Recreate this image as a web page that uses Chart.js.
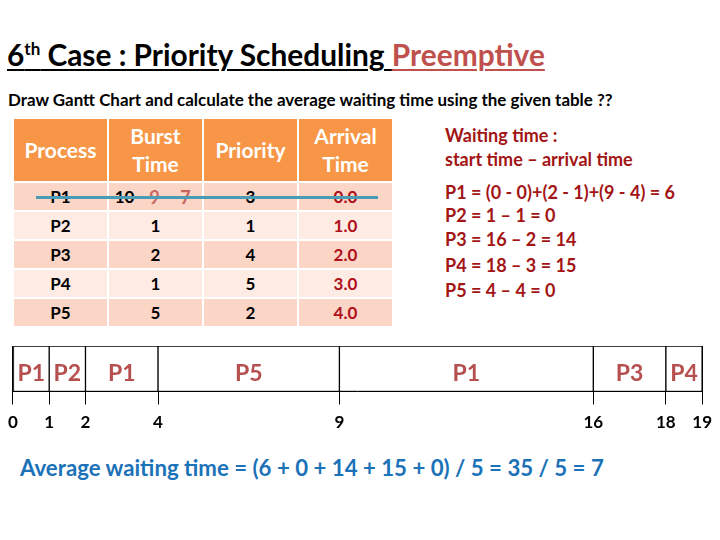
<!DOCTYPE html>
<html>
<head>
<meta charset="utf-8">
<script src="https://cdn.jsdelivr.net/npm/chart.js@4"></script>
<style>
  html,body{margin:0;padding:0;background:#fff;}
  body{width:720px;height:540px;position:relative;overflow:hidden;font-family:Lato,"Open Sans",sans-serif;font-weight:bold;}
  .abs{position:absolute;white-space:nowrap;}
  #title{left:7px;top:38px;font-size:28px;line-height:34px;color:#000;}
  #title u{text-decoration-thickness:2px;text-underline-offset:3px;}
  #title sup{font-size:17px;vertical-align:11px;line-height:0;}
  #title .red{color:#C0504D;}
  #sub{left:8px;top:91px;font-size:15px;line-height:18px;color:#000;}
  #tbl{position:absolute;left:12px;top:117px;border-collapse:separate;border-spacing:2px;}
  #tbl th{background:#F79646;color:#fff;font-size:21px;line-height:28px;height:62px;padding:0;font-weight:bold;text-align:center;}
  #tbl td{height:27px;padding:0;font-size:17px;line-height:20px;font-weight:bold;text-align:center;color:#000;}
  #tbl tr.b1 td{background:#FBD5C6;}
  #tbl tr.b2 td{background:#FDEBE4;}
  #tbl td.arr{color:#B0101A;}
  #tbl col{width:93px;}
  .rem{color:#C0504D;opacity:.85;font-size:18px;}
  #strike{position:absolute;left:36px;top:196px;width:342px;height:3px;background:#4A9BB4;}
  #wait{left:445px;top:124px;color:#A31515;font-size:18px;}
  #wait div{position:absolute;left:0;white-space:nowrap;}
  #avg{left:20px;top:455px;font-size:21px;line-height:26px;color:#1B72B8;}
  #gantt{position:absolute;left:0;top:330px;width:720px;height:110px;}
</style>
</head>
<body>
<div id="title" class="abs" data-fit="539"><u>6<sup>th</sup> Case : Priority Scheduling </u><u class="red">Preemptive</u></div>
<div id="sub" class="abs" data-fit="605">Draw Gantt Chart and calculate the average waiting time using the given table ??</div>

<table id="tbl">
  <colgroup><col><col><col><col></colgroup>
  <thead><tr id="thead"></tr></thead>
  <tbody id="tbody"></tbody>
</table>
<div id="strike"></div>

<div id="wait" class="abs"></div>
<div id="avg" class="abs" data-fit="584"></div>

<div id="gantt"><canvas id="c" width="720" height="110"></canvas></div>

<script>
// ---- table data ----
const headers = ['Process', 'Burst<br>Time', 'Priority', 'Arrival<br>Time'];
const processes = ['P1', 'P2', 'P3', 'P4', 'P5'];
const burstTimes = ['10', '1', '2', '1', '5'];
const p1Remaining = ['9', '7'];
const priorities = ['3', '1', '4', '5', '2'];
const arrivalTimes = ['0.0', '1.0', '2.0', '3.0', '4.0'];

// ---- gantt data ----
const ganttProcesses = ['P1', 'P2', 'P1', 'P5', 'P1', 'P3', 'P4'];
const ganttStarts = [0, 1, 2, 4, 9, 16, 18];
const ganttEnds = [1, 2, 4, 9, 16, 18, 19];
const timeTicks = [0, 1, 2, 4, 9, 16, 18, 19];

// ---- text ----
const waitingHeader = ['Waiting time :', 'start time \u2013 arrival time'];
const waitingLines = [
  'P1 = (0 - 0)+(2 - 1)+(9 - 4) = 6',
  'P2 = 1 \u2013 1 = 0',
  'P3 = 16 \u2013 2 = 14',
  'P4 = 18 \u2013 3 = 15',
  'P5 = 4 \u2013 4 = 0'
];
const averageText = 'Average waiting time = (6 + 0 + 14 + 15 + 0) / 5 = 35 / 5 = 7';

// build table
document.getElementById('thead').innerHTML = headers.map(h => '<th>' + h + '</th>').join('');
document.getElementById('tbody').innerHTML = processes.map((p, i) => {
  let burst = burstTimes[i];
  if (i === 0) burst = '<span style="position:relative;left:-31px">' + burst + '</span>' +
    '<span class="rem" style="position:absolute;margin-left:-16px">' + p1Remaining[0] + '</span>' +
    '<span class="rem" style="position:absolute;margin-left:15px">' + p1Remaining[1] + '</span>';
  return '<tr class="' + (i % 2 === 0 ? 'b1' : 'b2') + '"><td>' + p + '</td><td style="position:relative">' + burst +
    '</td><td>' + priorities[i] + '</td><td class="arr">' + arrivalTimes[i] + '</td></tr>';
}).join('');

// waiting text
const wait = document.getElementById('wait');
const waitTops = [0, 24, 57, 80, 104, 130, 155];
[...waitingHeader, ...waitingLines].forEach((t, i) => {
  const d = document.createElement('div');
  d.textContent = t;
  d.style.top = waitTops[i] + 'px';
  wait.appendChild(d);
});
document.getElementById('avg').textContent = averageText;

// fit widths
document.querySelectorAll('[data-fit]').forEach(el => {
  const target = +el.dataset.fit;
  const w = el.getBoundingClientRect().width;
  const fs = parseFloat(getComputedStyle(el).fontSize);
  el.style.fontSize = (fs * target / w) + 'px';
});

// gantt chart
const labelPlugin = {
  id: 'segLabels',
  afterDatasetsDraw(chart) {
    const ctx = chart.ctx;
    const meta = chart.getDatasetMeta(0);
    ctx.save();
    ctx.font = 'bold 23px Lato, "Open Sans", sans-serif';
    ctx.fillStyle = '#B5504F';
    ctx.textAlign = 'center';
    ctx.textBaseline = 'middle';
    meta.data.forEach((bar, i) => {
      const p = bar.getProps(['x', 'base', 'y'], true);
      ctx.fillText(ganttProcesses[i], (p.x + p.base) / 2, p.y + 5);
    });
    ctx.restore();
  }
};

new Chart(document.getElementById('c'), {
  type: 'bar',
  data: {
    labels: ['CPU'],
    datasets: [{
      data: ganttStarts.map((s, i) => ({ x: [s, ganttEnds[i]], y: 'CPU' })),
      backgroundColor: '#ffffff',
      borderColor: '#000000',
      borderWidth: 1,
      borderSkipped: false,
      barPercentage: 1,
      categoryPercentage: 1,
      grouped: false
    }]
  },
  options: {
    indexAxis: 'y',
    responsive: false,
    animation: false,
    layout: { padding: { left: 11, right: 12, top: 16, bottom: 3 } },
    plugins: { legend: { display: false }, tooltip: { enabled: false } },
    scales: {
      x: {
        type: 'linear',
        min: 0,
        max: 19,
        afterBuildTicks(scale) { scale.ticks = timeTicks.map(v => ({ value: v })); },
        ticks: {
          autoSkip: false,
          maxRotation: 0,
          padding: 8,
          color: '#000',
          font: { family: 'Lato', weight: 'bold', size: 17 },
          callback: v => String(v)
        },
        grid: { color: '#000', lineWidth: 1, tickLength: 13, drawOnChartArea: true },
        border: { color: '#000' }
      },
      y: { type: 'category', display: false }
    }
  },
  plugins: [labelPlugin]
});
</script>
</body>
</html>
